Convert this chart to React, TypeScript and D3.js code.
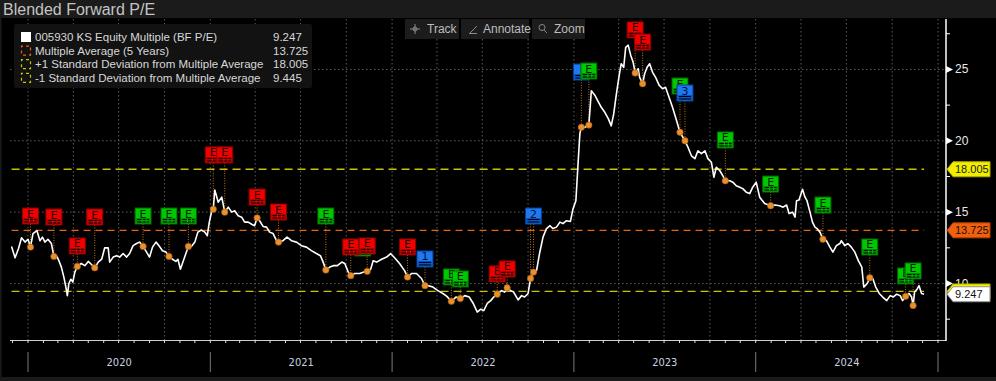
import React from 'react';
import * as d3 from 'd3';

const peDates = [
  '2019-11-29','2019-12-06','2019-12-13','2019-12-19','2019-12-26','2020-01-01','2020-01-06','2020-01-11','2020-01-19','2020-01-25',
  '2020-01-30','2020-02-04','2020-02-10','2020-02-17','2020-02-22','2020-02-27','2020-03-03','2020-03-08','2020-03-13','2020-03-17',
  '2020-03-20','2020-03-23','2020-03-27','2020-03-31','2020-04-04','2020-04-09','2020-04-17','2020-04-24','2020-05-01','2020-05-07',
  '2020-05-14','2020-05-21','2020-05-28','2020-06-03','2020-06-10','2020-06-13','2020-06-20','2020-06-27','2020-07-03','2020-07-10',
  '2020-07-17','2020-07-23','2020-07-30','2020-08-06','2020-08-12','2020-08-19','2020-08-26','2020-09-01','2020-09-07','2020-09-14',
  '2020-09-20','2020-09-27','2020-10-04','2020-10-10','2020-10-17','2020-10-24','2020-10-28','2020-11-02','2020-11-07','2020-11-13',
  '2020-11-18','2020-11-24','2020-12-01','2020-12-07','2020-12-14','2020-12-21','2020-12-26','2020-12-30','2021-01-04','2021-01-07',
  '2021-01-10','2021-01-17','2021-01-24','2021-01-30','2021-02-06','2021-02-13','2021-02-19','2021-02-26','2021-03-05','2021-03-11',
  '2021-03-18','2021-03-25','2021-03-31','2021-04-05','2021-04-10','2021-04-17','2021-04-24','2021-04-30','2021-05-07','2021-05-14',
  '2021-05-18','2021-05-27','2021-06-04','2021-06-13','2021-06-23','2021-07-03','2021-07-13','2021-07-23','2021-08-02','2021-08-10',
  '2021-08-15','2021-08-21','2021-08-29','2021-09-05','2021-09-13','2021-09-22','2021-09-28','2021-10-05','2021-10-10','2021-10-18',
  '2021-10-28','2021-11-05','2021-11-12','2021-11-19','2021-11-24','2021-12-01','2021-12-11','2021-12-21','2021-12-29','2022-01-06',
  '2022-01-16','2022-01-26','2022-02-01','2022-02-09','2022-02-19','2022-03-01','2022-03-08','2022-03-14','2022-03-24','2022-04-03',
  '2022-04-13','2022-04-21','2022-04-30','2022-05-09','2022-05-18','2022-05-27','2022-06-05','2022-06-13','2022-06-21','2022-06-28',
  '2022-07-04','2022-07-11','2022-07-18','2022-07-24','2022-07-31','2022-08-09','2022-08-15','2022-08-20','2022-08-27','2022-09-02',
  '2022-09-11','2022-09-18','2022-09-24','2022-10-01','2022-10-06','2022-10-12','2022-10-18','2022-10-24','2022-10-31','2022-11-07',
  '2022-11-14','2022-11-20','2022-11-27','2022-12-04','2022-12-10','2022-12-17','2022-12-25','2022-12-30','2023-01-05','2023-01-09',
  '2023-01-13','2023-01-16','2023-01-23','2023-01-31','2023-02-05','2023-02-12','2023-02-18','2023-02-25','2023-03-04','2023-03-11',
  '2023-03-17','2023-03-22','2023-03-27','2023-04-02','2023-04-06','2023-04-11','2023-04-15','2023-04-20','2023-04-25','2023-04-30',
  '2023-05-04','2023-05-10','2023-05-13','2023-05-19','2023-05-23','2023-05-28','2023-06-02','2023-06-08','2023-06-14','2023-06-21',
  '2023-06-28','2023-07-04','2023-07-11','2023-07-18','2023-07-25','2023-08-02','2023-08-12','2023-08-18','2023-08-25','2023-09-01',
  '2023-09-07','2023-09-14','2023-09-21','2023-09-27','2023-10-04','2023-10-09','2023-10-14','2023-10-21','2023-10-27','2023-11-01',
  '2023-11-10','2023-11-16','2023-11-23','2023-11-30','2023-12-06','2023-12-13','2023-12-20','2023-12-26','2024-01-02','2024-01-09',
  '2024-01-19','2024-01-31','2024-02-08','2024-02-18','2024-02-25','2024-03-03','2024-03-08','2024-03-15','2024-03-20','2024-03-23',
  '2024-03-28','2024-04-04','2024-04-09','2024-04-13','2024-04-19','2024-04-24','2024-04-29','2024-05-03','2024-05-09','2024-05-15',
  '2024-05-22','2024-05-29','2024-06-04','2024-06-11','2024-06-18','2024-06-21','2024-06-28','2024-07-04','2024-07-11','2024-07-18',
  '2024-07-25','2024-08-01','2024-08-05','2024-08-12','2024-08-17','2024-08-23','2024-08-29','2024-09-05','2024-09-12','2024-09-20',
  '2024-09-27','2024-10-03','2024-10-10','2024-10-17','2024-10-22','2024-10-28','2024-11-04','2024-11-09','2024-11-12','2024-11-15',
  '2024-11-20','2024-11-24','2024-11-29','2024-12-04',
];
const peValues = [
  12.6,11.8,12.45,13.2,12.9,13.1,12.55,13.5,13.7,13.0,
  13.25,12.9,13.1,12.8,11.9,11.95,11.6,11.15,10.45,9.75,
  9.15,10.0,10.3,10.1,10.8,11.2,11.4,11.25,11.55,11.35,
  11.1,11.5,11.7,12.5,12.5,11.5,11.85,11.95,11.85,12.1,
  11.85,12.1,12.65,12.8,12.9,12.6,12.2,11.85,12.55,12.9,
  12.65,12.3,12.2,11.9,11.7,11.55,11.7,11.0,11.5,12.1,
  12.6,12.6,12.9,13.6,13.75,13.6,13.35,14.3,15.1,15.2,
  16.55,15.7,16.05,15.0,15.35,15.0,15.1,14.75,14.65,14.3,
  14.3,14.15,14.05,14.6,14.4,14.0,13.95,13.6,13.5,13.0,
  12.9,13.0,13.25,13.0,12.9,12.65,12.55,12.3,12.1,11.95,
  11.55,10.95,11.15,11.25,11.25,11.5,11.4,10.8,10.55,10.7,
  10.7,10.8,10.85,11.0,11.6,11.5,11.7,11.85,12.1,11.8,
  11.4,10.9,10.45,10.7,10.7,10.35,9.85,9.85,9.75,9.5,
  9.3,9.1,8.75,9.05,8.95,9.15,9.05,8.6,8.0,8.2,
  8.1,8.6,8.8,9.05,9.25,9.5,9.4,9.7,9.5,9.4,
  8.85,9.15,9.05,9.3,10.35,10.8,10.9,12.1,13.25,13.85,
  14.05,13.85,13.95,14.3,14.2,14.4,14.35,15.2,15.8,18.2,
  20.5,20.95,20.95,21.1,23.5,23.2,22.8,22.35,22.0,21.55,
  21.05,21.9,23.2,24.6,25.4,25.15,26.55,26.7,26.0,25.5,
  24.75,25.05,24.45,24.0,24.7,25.15,25.4,24.8,24.45,23.9,
  23.65,23.75,23.05,22.35,21.55,20.6,20.0,19.55,18.95,18.75,
  19.3,19.1,19.3,18.75,18.5,17.45,18.15,17.9,17.55,17.2,
  17.2,17.1,16.85,16.75,16.65,16.4,16.3,16.75,17.1,16.05,
  15.6,15.45,15.5,15.45,15.35,15.5,14.9,15.0,14.65,15.8,
  15.85,16.6,16.05,15.8,15.0,14.3,13.95,13.85,13.6,13.1,
  13.0,12.55,12.2,12.65,12.8,13.0,12.65,12.8,12.55,12.2,
  11.6,11.15,9.75,10.0,10.4,10.35,9.75,9.3,9.05,8.8,
  9.15,9.05,9.25,9.15,8.8,9.1,9.3,9.05,8.45,9.4,
  9.6,9.85,9.3,9.247,
];

const meanValue = 13.725;
const plusSdValue = 18.005;
const minusSdValue = 9.445;
const lastValue = 9.247;

const flagDates = [
  '2020-01-06','2020-02-22','2020-04-09','2020-05-14','2020-08-19','2020-10-10','2020-11-18','2021-01-07','2021-01-30','2021-04-05',
  '2021-05-18','2021-08-21','2021-11-03','2021-10-10','2021-11-12','2022-02-01','2022-03-08','2022-04-30','2022-05-18','2022-07-31',
  '2022-08-20','2022-10-12','2023-01-16','2023-01-31','2023-05-04','2023-05-19','2023-08-02','2023-08-12','2023-11-01','2024-01-31',
  '2024-05-15','2024-08-17','2024-10-28','2024-11-12',
];
const flagKinds = [
  'red','red','red','red','green','green','green','red','red','red',
  'red','green','green','red','red','red','blue','green','green','red',
  'red','blue','blue','green','red','red','green','blue','green','green',
  'green','green','green','green',
];
const flagLabels = [
  'E','E','E','E','E','E','E','E','E','E',
  'E','E','','E','E','E','1','E','E','E',
  'E','2','','E','E','E','E','3','E','E',
  'E','E','E','E',
];
const flagLevels = [
  15.29,15.22,13.19,15.22,15.29,15.29,15.29,19.57,19.57,16.62,
  15.57,15.29,13.05,13.12,13.19,13.12,12.28,11.02,10.88,11.23,
  11.58,15.29,25.38,25.45,28.33,27.48,24.40,23.91,20.62,17.53,
  16.06,13.12,11.09,11.44,
];
const dotDates = [
  '2020-01-06','2020-02-22','2020-04-09','2020-05-14','2020-08-19','2020-10-10','2020-11-18','2021-01-07','2021-01-30','2021-04-05',
  '2021-05-18','2021-08-21','2021-10-10','2021-11-12','2022-02-01','2022-03-08','2022-04-30','2022-05-18','2022-07-31','2022-08-20',
  '2022-10-06','2022-10-12','2023-01-16','2023-01-31','2023-05-04','2023-05-19','2023-08-02','2023-08-12','2023-11-01','2024-01-31',
  '2024-05-15','2024-08-17','2024-10-28','2024-11-12',
];

const yMajorTicks = [10, 15, 20, 25];
const yMinorTicks = [7.5, 12.5, 17.5, 22.5, 27.5];
const yearLabels = ['2020', '2021', '2022', '2023', '2024'];
const legendLabels = [
  '005930 KS Equity Multiple (BF P/E)',
  'Multiple Average (5 Years)',
  '+1 Standard Deviation from Multiple Average',
  '-1 Standard Deviation from Multiple Average',
];
const legendValues = ['9.247', '13.725', '18.005', '9.445'];
const toolbarLabels = ['Track', 'Annotate', 'Zoom'];
const titleText = 'Blended Forward P/E';

const FONT = "'Liberation Sans', Arial, sans-serif";
const WHITE = '#ffffff';
const ORANGE = '#e8640a';
const YELLOW = '#c8c400';

const flagColors: Record<string, { fill: string; dark: string; stroke: string; text: string }> = {
  red: { fill: '#f20000', dark: '#b80000', stroke: '#8a0000', text: '#220000' },
  green: { fill: '#00c800', dark: '#009400', stroke: '#006400', text: '#002200' },
  blue: { fill: '#1f78f0', dark: '#0c55c4', stroke: '#003f94', text: '#001238' },
};

export default function App() {
  const parse = (s: string) => new Date(s + 'T00:00:00Z');
  const series = peDates.map((d, i) => ({ date: parse(d), value: peValues[i] }));

  const left = 10, right = 946, top = 19, bottom = 340;
  const x = d3.scaleUtc().domain([parse('2020-01-01'), parse('2025-01-01')]).range([28, 938]);
  const y = d3.scaleLinear().domain([10, 25]).range([283.5, 69.45]);

  const bis = d3.bisector((p: { date: Date }) => p.date).left;
  const valueAt = (dt: Date) => {
    const i = bis(series, dt);
    if (i <= 0) return series[0].value;
    if (i >= series.length) return series[series.length - 1].value;
    const a = series[i - 1], b = series[i];
    const t = (dt.getTime() - a.date.getTime()) / (b.date.getTime() - a.date.getTime());
    return a.value + (b.value - a.value) * t;
  };

  const line = d3.line<{ date: Date; value: number }>().x(p => x(p.date)).y(p => y(p.value));
  const first = series[0].date, last = series[series.length - 1].date;

  const quarterTicks = d3.utcMonth.every(3)!.range(parse('2019-10-01'), parse('2025-01-02')).filter(d => x(d) >= left && x(d) <= right);
  const monthTicks = d3.utcMonth.range(parse('2019-11-01'), parse('2025-02-01')).filter(d => x(d) >= left && x(d) <= right);
  const yearStarts = d3.utcYear.range(parse('2020-01-01'), parse('2025-01-02'));

  const flagW = 16, flagH = 16;
  const dotSet = new Set(dotDates);

  const tag = (v: number, fill: string, stroke: string, textFill: string, label: string | null, key: string) => {
    const cy = y(v);
    const h = 7.5;
    const d = `M947,${cy} L953,${cy - h} L990,${cy - h} L990,${cy + h} L953,${cy + h} Z`;
    return (
      <g key={key}>
        <path d={d} fill={fill} stroke={stroke} strokeWidth={1} />
        {label && <text x={955} y={cy + 4} fontSize={11} fontFamily={FONT} fill={textFill}>{label}</text>}
      </g>
    );
  };

  return (
    <svg width={996} height={381} style={{ position: 'absolute', left: 0, top: 0, background: '#000' }} fontFamily={FONT}>
      <rect x={0} y={0} width={996} height={381} fill="#000" />
      <rect x={0} y={377} width={996} height={4} fill="#1a1a1a" />
      <rect x={0} y={0} width={1.5} height={381} fill="#1a1a1a" />

      {quarterTicks.map((d, i) => (
        <line key={'qg' + i} x1={x(d)} x2={x(d)} y1={top} y2={bottom} stroke="#5c5c5c" strokeWidth={1} strokeDasharray="1.5,2.5" />
      ))}
      {yMajorTicks.map(v => (
        <line key={'hg' + v} x1={left} x2={right} y1={y(v)} y2={y(v)} stroke="#5c5c5c" strokeWidth={1} strokeDasharray="1.5,2.5" />
      ))}

      <line x1={x(first)} x2={x(last)} y1={y(plusSdValue)} y2={y(plusSdValue)} stroke={YELLOW} strokeWidth={1.3} strokeDasharray="8,5" />
      <line x1={x(first)} x2={x(last)} y1={y(minusSdValue)} y2={y(minusSdValue)} stroke={YELLOW} strokeWidth={1.3} strokeDasharray="8,5" />
      <line x1={x(first)} x2={x(last)} y1={y(meanValue)} y2={y(meanValue)} stroke={ORANGE} strokeWidth={1.3} strokeDasharray="7,5" />

      {flagDates.map((ds, i) => {
        if (!dotSet.has(ds)) return null;
        const dt = parse(ds);
        const cx = x(dt);
        return (
          <line key={'cn' + i} x1={cx} x2={cx} y1={y(flagLevels[i]) + flagH} y2={y(valueAt(dt))} stroke="#c07412" strokeWidth={1} strokeDasharray="1,1.5" />
        );
      })}
      {dotDates.filter(ds => !flagDates.includes(ds)).map((ds, i) => {
        const dt = parse(ds);
        const cx = x(dt);
        return <line key={'cx' + i} x1={cx} x2={cx} y1={y(15.29) + flagH} y2={y(valueAt(dt))} stroke="#c07412" strokeWidth={1} strokeDasharray="1,1.5" />;
      })}

      <path d={line(series) || ''} fill="none" stroke={WHITE} strokeWidth={1.6} strokeLinejoin="round" />

      {dotDates.map((ds, i) => {
        const dt = parse(ds);
        return <circle key={'dot' + i} cx={x(dt)} cy={y(valueAt(dt))} r={3.2} fill="#e8902c" stroke="#a85a10" strokeWidth={0.6} />;
      })}

      {flagDates.map((ds, i) => {
        const cx = x(parse(ds));
        const t = y(flagLevels[i]);
        const c = flagColors[flagKinds[i]];
        const lx = cx - flagW / 2;
        return (
          <g key={'fl' + i}>
            <rect x={lx} y={t} width={flagW} height={flagH} fill={c.fill} stroke={c.stroke} strokeWidth={1} />
            <rect x={lx + 0.5} y={t + 10} width={flagW - 1} height={5.5} fill={c.dark} />
            {flagLabels[i] && (
              <text x={cx} y={t + 9.5} textAnchor="middle" fontSize={11} fill={c.text} fontFamily="'DejaVu Sans', sans-serif">{flagLabels[i]}</text>
            )}
            <line x1={lx + 2} x2={lx + flagW - 2} y1={t + 11.5} y2={t + 11.5} stroke="#000" strokeWidth={1} />
            <line x1={lx + 2} x2={lx + flagW - 2} y1={t + 14} y2={t + 14} stroke="#000" strokeWidth={1} />
            {flagLabels[i] === 'E' && (
              <>
                <line x1={cx - 1} x2={cx - 1} y1={t + 11} y2={t + 14.5} stroke={c.fill} strokeWidth={1} />
                <line x1={cx + 3} x2={cx + 3} y1={t + 11} y2={t + 14.5} stroke={c.fill} strokeWidth={1} />
              </>
            )}
          </g>
        );
      })}

      <line x1={left} x2={right} y1={bottom + 0.5} y2={bottom + 0.5} stroke="#cfcfcf" strokeWidth={1} />
      {monthTicks.map((d, i) => (
        <line key={'mt' + i} x1={x(d)} x2={x(d)} y1={bottom} y2={bottom + 3} stroke="#e0e0e0" strokeWidth={1} />
      ))}
      {yearStarts.map((d, i) => (
        <line key={'ys' + i} x1={x(d)} x2={x(d)} y1={352} y2={372} stroke="#7a7a7a" strokeWidth={1} />
      ))}
      {yearLabels.map((lbl, i) => {
        const mid = new Date((yearStarts[i].getTime() + yearStarts[i + 1].getTime()) / 2);
        return (
          <text key={'yl' + i} x={x(mid)} y={366} textAnchor="middle" fontSize={11} fill="#c8d0e0" fontFamily="'DejaVu Sans Condensed', 'Liberation Sans Narrow', sans-serif">{lbl}</text>
        );
      })}

      <line x1={right} x2={right} y1={top} y2={bottom + 1} stroke={WHITE} strokeWidth={1.5} />
      {yMinorTicks.map(v => (
        <line key={'ym' + v} x1={right} x2={right + 4} y1={y(v)} y2={y(v)} stroke={WHITE} strokeWidth={1} />
      ))}
      {yMajorTicks.map(v => (
        <g key={'yt' + v}>
          <path d={`M${right},${y(v) - 3.5} L${right + 7},${y(v)} L${right},${y(v) + 3.5} Z`} fill={WHITE} />
          <text x={955} y={y(v) + 4} fontSize={12} fill="#e8e8e8">{v}</text>
        </g>
      ))}
      {tag(plusSdValue, '#f2ee00', '#b0a800', '#222', plusSdValue.toFixed(3), 'tp')}
      {tag(meanValue, '#f06010', '#b04000', '#221000', meanValue.toFixed(3), 'tm')}
      {tag(minusSdValue, '#f2ee00', '#b0a800', '#222', null, 'tn')}
      {tag(lastValue, '#ffffff', '#909090', '#111', lastValue.toFixed(3), 'tl')}

      <rect x={0} y={0} width={996} height={18} fill="#1b1b1b" />
      <text x={3} y={15} fontSize={16} fill="#c4c4c4">{titleText}</text>

      {(() => {
        const xs = [405, 461, 532];
        const ws = [54, 68, 53];
        return toolbarLabels.map((lbl, i) => (
          <g key={'tb' + i}>
            <rect x={xs[i]} y={19} width={ws[i]} height={20} fill="#1c1c1c" />
            <text x={xs[i] + 22} y={33} fontSize={12} fill="#bdbdbd">{lbl}</text>
          </g>
        ));
      })()}
      <g stroke="#8a8a8a" strokeWidth={1} fill="none">
        <line x1={410} x2={420} y1={29} y2={29} />
        <line x1={415} x2={415} y1={24} y2={34} />
        <circle cx={415} cy={29} r={2} />
        <line x1={470} x2={477} y1={33} y2={26} />
        <line x1={469} x2={477} y1={33.5} y2={33.5} />
        <circle cx={542} cy={27.5} r={3} />
        <line x1={544} x2={547} y1={30} y2={33} />
      </g>

      <rect x={14} y={24} width={298} height={64} rx={2} fill="#121212" />
      {legendLabels.map((lbl, i) => {
        const cy = 37 + i * 13.6;
        const iconStroke = i === 1 ? ORANGE : YELLOW;
        return (
          <g key={'lg' + i}>
            {i === 0 ? (
              <rect x={21} y={cy - 5} width={10} height={10} fill={WHITE} />
            ) : (
              <rect x={21.5} y={cy - 4.5} width={9} height={9} fill="none" stroke={iconStroke} strokeWidth={1.2} strokeDasharray="3,3" strokeDashoffset={1.5} />
            )}
            <text x={35} y={cy + 4} fontSize={11.5} fill="#d8d8d8">{lbl}</text>
            <text x={273} y={cy + 4} fontSize={11.5} fill="#d8d8d8">{legendValues[i]}</text>
          </g>
        );
      })}
    </svg>
  );
}
